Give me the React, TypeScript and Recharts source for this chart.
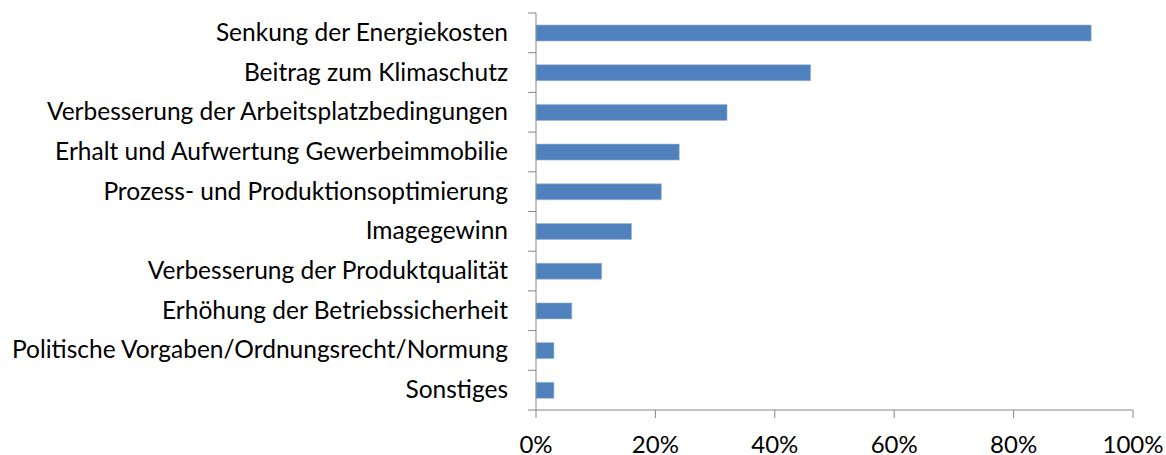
import { BarChart, Bar, XAxis, YAxis } from "recharts";

const categories = [
  "Senkung der Energiekosten",
  "Beitrag zum Klimaschutz",
  "Verbesserung der Arbeitsplatzbedingungen",
  "Erhalt und Aufwertung Gewerbeimmobilie",
  "Prozess- und Produktionsoptimierung",
  "Imagegewinn",
  "Verbesserung der Produktqualität",
  "Erhöhung der Betriebssicherheit",
  "Politische Vorgaben/Ordnungsrecht/Normung",
  "Sonstiges",
];

const shares = [93, 46, 32, 24, 21, 16, 11, 6, 3, 3];

const xTicks = [0, 20, 40, 60, 80, 100];

const AXIS = "#868686";
const FONT = "Lato, 'Open Sans', sans-serif";

const data = categories.map((name, i) => ({ name, value: shares[i] }));

// Excel-style category axis: label in the middle, tick marks on band edges
function CategoryTick(props: any) {
  const { x, y, payload, index } = props;
  const half = payload?.offset || 397 / categories.length / 2;
  return (
    <g>
      <line x1={x - 8} x2={x} y1={y - half} y2={y - half} stroke={AXIS} />
      {index === categories.length - 1 && (
        <line x1={x - 8} x2={x} y1={y + half} y2={y + half} stroke={AXIS} />
      )}
      <text
        x={x - 28}
        y={y}
        dy={8}
        textAnchor="end"
        fill="#000"
        fontFamily={FONT}
        fontSize={24.5}
      >
        {payload.value}
      </text>
    </g>
  );
}

function PercentTick(props: any) {
  const { x, y, payload } = props;
  return (
    <text
      x={x}
      y={y}
      dy={35}
      textAnchor="middle"
      fill="#000"
      fontFamily={FONT}
      fontSize={24}
    >
      {`${payload.value}%`}
    </text>
  );
}

export default function App() {
  return (
    <div
      style={{
        position: "fixed",
        left: 0,
        top: 0,
        width: 1166,
        height: 455,
        background: "#fff",
      }}
    >
      <BarChart
        width={1166}
        height={455}
        data={data}
        layout="vertical"
        margin={{ top: 13, right: 33, bottom: 0, left: 0 }}
        barSize={16}
      >
        <XAxis
          type="number"
          domain={[0, 100]}
          ticks={xTicks}
          height={45}
          stroke={AXIS}
          tickSize={8}
          tickMargin={0}
          tick={<PercentTick />}
          interval={0}
        />
        <YAxis
          type="category"
          dataKey="name"
          width={536}
          stroke={AXIS}
          tickLine={false}
          tickSize={0}
          tickMargin={0}
          interval={0}
          tick={<CategoryTick />}
        />
        <Bar
          dataKey="value"
          fill="#4F81BD"
          stroke="#9DB7DC"
          strokeWidth={0.6}
          isAnimationActive={false}
        />
      </BarChart>
    </div>
  );
}
